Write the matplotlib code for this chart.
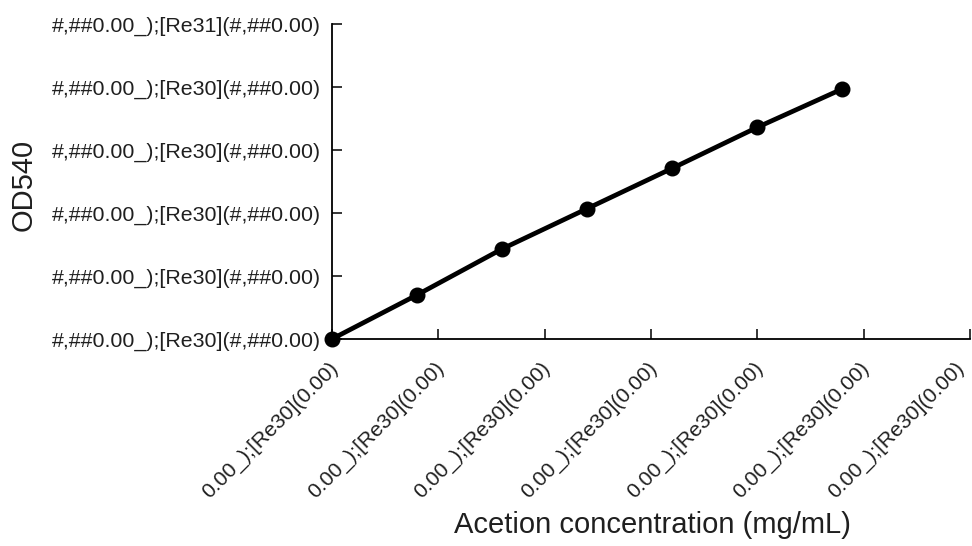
import matplotlib
matplotlib.use("Agg")
import matplotlib.pyplot as plt
import matplotlib.transforms as mtransforms

# Data
conc = [0.0, 0.8, 1.6, 2.4, 3.2, 4.0, 4.8]
od540 = [0.0, 0.70, 1.43, 2.07, 2.71, 3.36, 3.97]

x_ticks = [0, 1, 2, 3, 4, 5, 6]
x_tick_labels = ["0.00_);[Re30](0.00)"] * 7
y_ticks = [0, 1, 2, 3, 4, 5]
y_tick_labels = ["#,##0.00_);[Re30](#,##0.00)"] * 5 + ["#,##0.00_);[Re31](#,##0.00)"]

plt.rcParams['font.family'] = ['Liberation Sans', 'DejaVu Sans']

fig = plt.figure(figsize=(9.72, 5.46), dpi=100)
ax = fig.add_axes([332/972, 1-339/546, (970-332)/972, (339-24)/546])

ax.plot(conc, od540, color='black', lw=3.4, marker='o', markersize=10.5,
        clip_on=False, zorder=5)

ax.set_xlim(0, 6)
ax.set_ylim(0, 5)
ax.set_xticks(x_ticks)
ax.set_xticklabels(x_tick_labels, rotation=45, ha='right', va='top',
                   rotation_mode='anchor', fontsize=15.2, color='#1f1f1f')
ax.set_yticks(y_ticks)
ax.set_yticklabels(y_tick_labels, fontsize=15.4, color='#1f1f1f')

for s in ['top', 'right']:
    ax.spines[s].set_visible(False)
for s in ['left', 'bottom']:
    ax.spines[s].set_linewidth(1.3)
    ax.spines[s].set_color('black')

ax.tick_params(axis='both', direction='in', length=7, width=1.1, color='black')
ax.tick_params(axis='y', pad=8)
ax.tick_params(axis='x', pad=14)

# small horizontal offsets of x tick labels as in the reference
labels = ax.get_xticklabels()
for i, lab in enumerate(labels):
    dx = -4 if i < len(labels) - 1 else -16
    lab.set_transform(lab.get_transform() +
                      mtransforms.ScaledTranslation(dx / 100, 0, fig.dpi_scale_trans))

ax.set_xlabel("Acetion concentration (mg/mL)", fontsize=21, color='#1f1f1f')
ax.xaxis.set_label_coords(0.503, -0.545)
ax.set_ylabel("OD540", fontsize=21, color='#1f1f1f')
ax.yaxis.set_label_coords(-0.462, 0.49)

fig.savefig("out.png", dpi=100)
